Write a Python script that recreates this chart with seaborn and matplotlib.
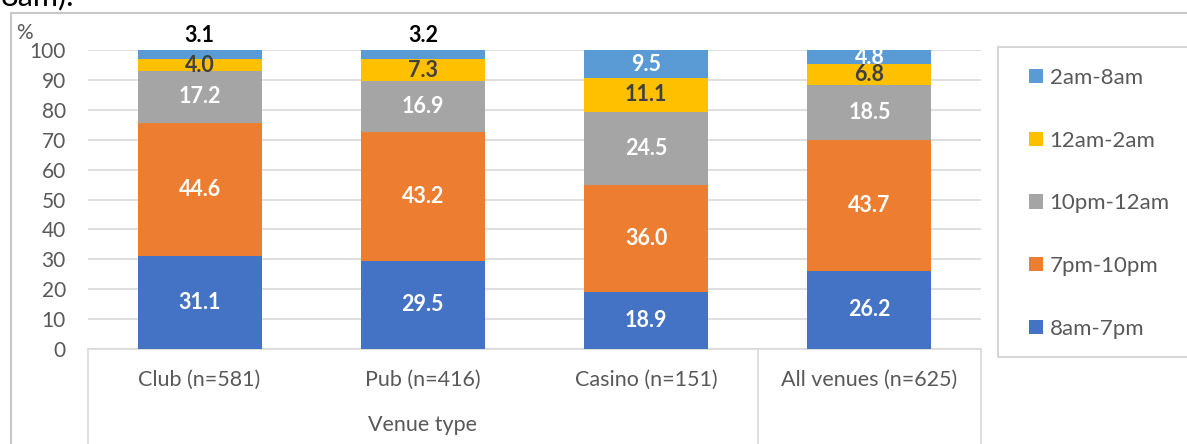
import matplotlib
matplotlib.use("Agg")
import matplotlib.pyplot as plt
import matplotlib.transforms as mtransforms
from matplotlib.patches import Rectangle, Patch
import seaborn as sns
import numpy as np

# ---- data ----
categories = ["Club (n=581)", "Pub (n=416)", "Casino (n=151)", "All venues (n=625)"]
series_names = ["8am-7pm", "7pm-10pm", "10pm-12am", "12am-2am", "2am-8am"]
s_8am_7pm = [31.1, 29.5, 18.9, 26.2]
s_7pm_10pm = [44.6, 43.2, 36.0, 43.7]
s_10pm_12am = [17.2, 16.9, 24.5, 18.5]
s_12am_2am = [4.0, 7.3, 11.1, 6.8]
s_2am_8am = [3.1, 3.2, 9.5, 4.8]
series_values = [s_8am_7pm, s_7pm_10pm, s_10pm_12am, s_12am_2am, s_2am_8am]
y_ticks = [0, 10, 20, 30, 40, 50, 60, 70, 80, 90, 100]
group_label = "Venue type"

colors = ["#4472C4", "#ED7D31", "#A5A5A5", "#FFC000", "#5B9BD5"]
label_colors = ["white", "white", "white", "#404040", "white"]

sns.set_theme(style="white")
plt.rcParams['font.family'] = ['Lato', 'DejaVu Sans']

W, H = 1187, 444
fig = plt.figure(figsize=(W / 100, H / 100), dpi=100)
ax = fig.add_axes([88 / W, 1 - 349 / H, (981 - 88) / W, (349 - 50) / H])

grid_c = "#D9D9D9"
text_c = "#595959"
FS_TICK = 15
FS_CAT = 15.5
FS_VAL = 15.5
FS_LEG = 16

bottom = np.zeros(len(categories))
for name, vals, col in zip(series_names, series_values, colors):
    sns.barplot(x=categories, y=vals, bottom=bottom, color=col, saturation=1,
                width=0.555, errorbar=None, ax=ax, label=name, zorder=3,
                linewidth=0)
    bottom = bottom + np.array(vals)

# value labels
bottom = np.zeros(len(categories))
for vals, lc in zip(series_values, label_colors):
    for i, v in enumerate(vals):
        if v < 3.5:
            ax.text(i, 105, f"{v:.1f}", ha="center", va="center", color="black",
                    fontsize=FS_VAL, fontweight="bold", clip_on=False, zorder=5)
        else:
            ax.text(i, bottom[i] + v / 2, f"{v:.1f}", ha="center", va="center",
                    color=lc, fontsize=FS_VAL, fontweight="bold", zorder=5)
    bottom = bottom + np.array(vals)

ax.set_xlim(-0.5, len(categories) - 0.5)
ax.set_ylim(0, 100)
ax.set_yticks(y_ticks)
ax.set_yticklabels([str(t) for t in y_ticks], fontsize=FS_TICK, color=text_c)
ax.yaxis.grid(True, color=grid_c, linewidth=1.2, zorder=0)
ax.set_axisbelow(True)
ax.tick_params(axis="y", length=0, pad=16)
ax.tick_params(axis="x", length=0, pad=15, labelsize=FS_CAT, labelcolor=text_c)
for s in ["top", "right", "left"]:
    ax.spines[s].set_visible(False)
ax.spines["bottom"].set_color(grid_c)
ax.spines["bottom"].set_linewidth(1.2)
ax.set_xlabel("")
ax.set_ylabel("")
if ax.get_legend() is not None:
    ax.get_legend().remove()

# multi-level category dividers
trans = mtransforms.blended_transform_factory(ax.transData, ax.transAxes)
for xb in [-0.5, 2.5, 3.5]:
    ax.plot([xb, xb], [0, -0.4], transform=trans, color=grid_c, linewidth=1.2,
            clip_on=False)
ax.text(1, -0.255, group_label, transform=trans, ha="center", va="center",
        fontsize=FS_CAT, color=text_c)

# "%" unit label
fig.text(24 / W, 1 - 33 / H, "%", ha="center", va="center", fontsize=FS_TICK, color=text_c)

# outer chart border (cropped)
fig.patches.append(Rectangle((11 / W, -0.1), 1.0, (H - 13) / H + 0.1,
                             transform=fig.transFigure, fill=False,
                             edgecolor="#C8C8C8", linewidth=1.5, zorder=0))
# cut-off text above the chart
fig.text(0 / W, 1 - 5 / H, "8am).", ha="left", va="baseline", fontsize=22, color="black")

# legend box
fig.patches.append(Rectangle((998 / W, 1 - 357 / H), 0.3, 310 / H,
                             transform=fig.transFigure, facecolor="white",
                             edgecolor="#D0D0D0", linewidth=1.2, zorder=1))
handles = [Patch(facecolor=c, edgecolor="none") for c in colors][::-1]
labels = series_names[::-1]
leg = fig.legend(handles, labels, loc="upper left",
                 bbox_to_anchor=(1029 / W, 1 - 68 / H), frameon=False,
                 fontsize=FS_LEG, handlelength=0.63, handleheight=0.63,
                 handletextpad=0.3, labelspacing=1.92, borderaxespad=0,
                 borderpad=0)
for t in leg.get_texts():
    t.set_color(text_c)
leg.set_zorder(3)

fig.savefig("out.png", dpi=100)
